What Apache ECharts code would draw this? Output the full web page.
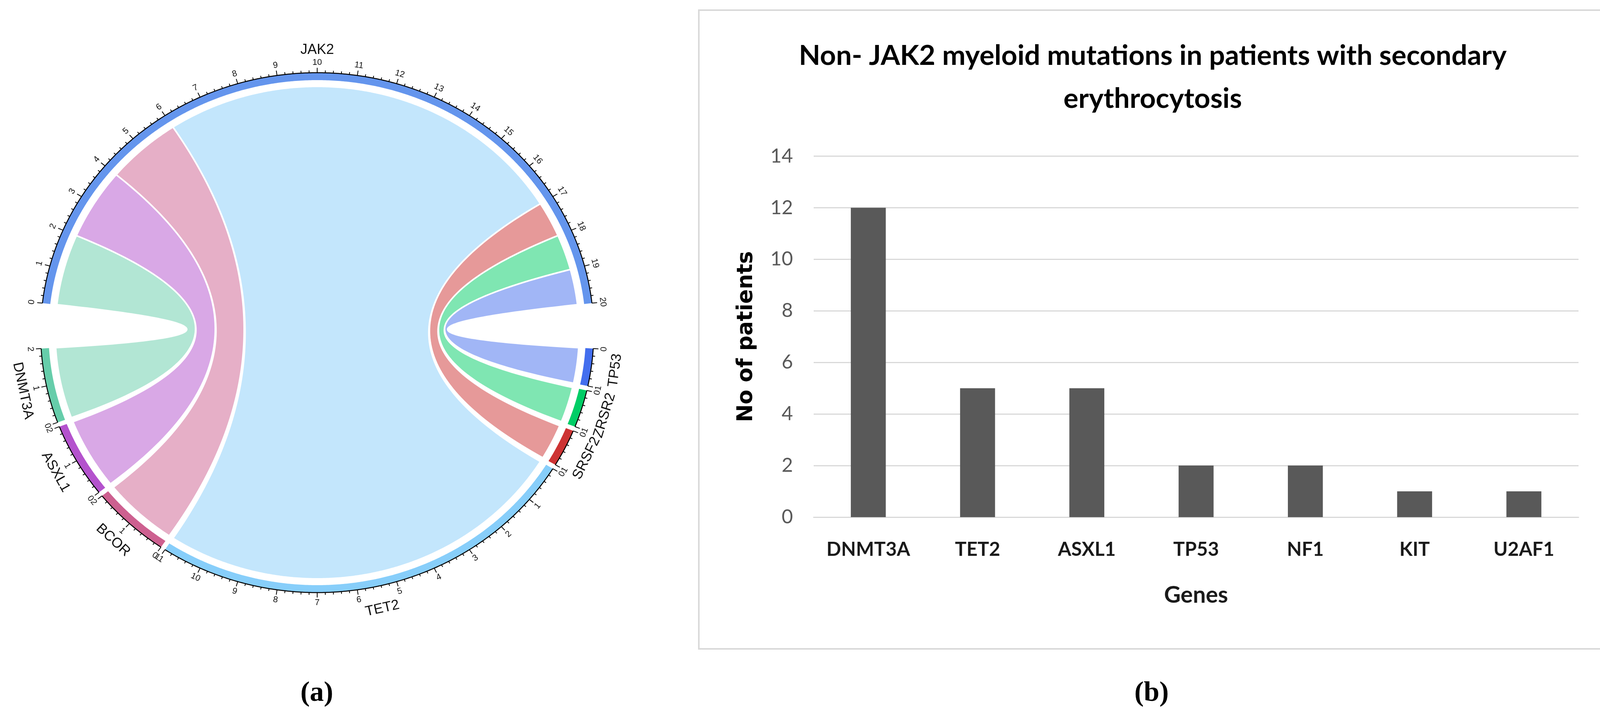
<!DOCTYPE html>
<html>
<head>
<meta charset="utf-8">
<script src="https://cdn.jsdelivr.net/npm/echarts@6.0.0/dist/echarts.min.js"></script>
<style>
html,body{margin:0;padding:0;background:#ffffff;}
#c{width:4150px;height:1842px;}
</style>
</head>
<body>
<div id="c"></div>
<script>
// ---------------- DATA ----------------
// (a) chord diagram: sectors in clockwise order, and links from JAK2
const chordSectors = ['JAK2', 'TP53', 'ZRSR2', 'SRSF2', 'TET2', 'BCOR', 'ASXL1', 'DNMT3A'];
const chordColors  = ['#6495ED', '#436EEE', '#00CD66', '#CD3333', '#87CEFA', '#CD6090', '#B452CD', '#66CDAA'];
const linkSource   = 'JAK2';
const linkTargets  = ['DNMT3A', 'ASXL1', 'BCOR', 'TET2', 'SRSF2', 'ZRSR2', 'TP53'];
const linkValues   = [2, 2, 2, 11, 1, 1, 1];

// (b) bar chart
const genes    = ['DNMT3A', 'TET2', 'ASXL1', 'TP53', 'NF1', 'KIT', 'U2AF1'];
const patients = [12, 5, 5, 2, 2, 1, 1];
const yAxisMin = 0, yAxisMax = 14, yAxisStep = 2;

// ---------------- CHORD LAYOUT (unit circle = outer edge of the ring) ----------------
const GAP_BIG = 1.2, GAP_SMALL = 0.12;
const R_OUT = 1, R_IN = 1 - 19 / 665, R_RIB = 1 - 35 / 665;
const TICK_MAJ = 12.5 / 665, TICK_MIN = 6 / 665;
const R_TLAB = 1 + 26 / 665, R_NAME = 1 + 58 / 665;
const MINOR_STEP = 0.2;
const TICK_FONT = 22, NAME_FONT = 36;

const sectorSize = chordSectors.map(function (n) {
  if (n === linkSource) return linkValues.reduce(function (a, b) { return a + b; }, 0);
  return linkTargets.reduce(function (a, t, i) { return a + (t === n ? linkValues[i] : 0); }, 0);
});
const gapAfter = chordSectors.map(function (n, i) {
  return (n === linkSource || i === chordSectors.length - 1) ? GAP_BIG : GAP_SMALL;
});
const offset = [];
let acc = 0;
chordSectors.forEach(function (n, i) { offset.push(acc); acc += sectorSize[i] + gapAfter[i]; });
const total = acc;
const degPer = 360 / total;
const startDeg = 90 + sectorSize[0] / 2 * degPer;

function angDeg(pos) { return startDeg - pos * degPer; }
function pt(r, pos) { const a = angDeg(pos) * Math.PI / 180; return [r * Math.cos(a), r * Math.sin(a)]; }
function arcPts(out, r, p0, p1) {
  const n = Math.max(8, Math.ceil(Math.abs(p1 - p0) * 24));
  for (let k = 0; k <= n; k++) out.push(pt(r, p0 + (p1 - p0) * k / n));
}
function bezPts(out, r, p0, p1) {
  const A = pt(r, p0), B = pt(r, p1), n = 80;
  for (let k = 1; k < n; k++) {
    const t = k / n, u = 1 - t;
    out.push([u * u * A[0] + t * t * B[0], u * u * A[1] + t * t * B[1]]);
  }
}
function rotFor(pos) {
  let a = angDeg(pos);
  while (a > 180) a -= 360;
  while (a <= -180) a += 360;
  const r = Math.sin(a * Math.PI / 180) >= -1e-6 ? a - 90 : a + 90;
  return r * Math.PI / 180;
}
function rgba(hex, al) {
  const v = parseInt(hex.slice(1), 16);
  return 'rgba(' + (v >> 16 & 255) + ',' + (v >> 8 & 255) + ',' + (v & 255) + ',' + al + ')';
}

function renderRibbon(params, api) {
  const i = api.value(2);
  const si = chordSectors.indexOf(linkSource);
  const ti = chordSectors.indexOf(linkTargets[i]);
  let cum = 0, tcum = 0;
  for (let k = 0; k < i; k++) {
    cum += linkValues[k];
    if (linkTargets[k] === linkTargets[i]) tcum += linkValues[k];
  }
  const s0 = offset[si] + cum, s1 = s0 + linkValues[i];
  const t0 = offset[ti] + tcum, t1 = t0 + linkValues[i];
  const pts = [];
  arcPts(pts, R_RIB, s0, s1);
  bezPts(pts, R_RIB, s1, t0);
  arcPts(pts, R_RIB, t0, t1);
  bezPts(pts, R_RIB, t1, s0);
  return {
    type: 'polygon',
    shape: { points: pts.map(function (p) { return api.coord(p); }) },
    style: { fill: rgba(chordColors[ti], 0.5), stroke: '#ffffff', lineWidth: 4 }
  };
}

function renderSector(params, api) {
  const i = api.value(2);
  const s = offset[i], e = s + sectorSize[i];
  const C = function (p) { return api.coord(p); };
  const children = [];
  const ring = [];
  arcPts(ring, R_OUT, s, e);
  arcPts(ring, R_IN, e, s);
  children.push({ type: 'polygon', shape: { points: ring.map(C) }, style: { fill: chordColors[i] } });
  const base = [];
  arcPts(base, R_OUT, s, e);
  children.push({ type: 'polyline', shape: { points: base.map(C) }, style: { stroke: '#000', lineWidth: 2.5, fill: 'none' } });
  const steps = Math.round(sectorSize[i] / MINOR_STEP);
  for (let k = 0; k <= steps; k++) {
    const pos = s + k * MINOR_STEP;
    const major = (k % 5 === 0);
    const p1 = C(pt(R_OUT, pos)), p2 = C(pt(R_OUT + (major ? TICK_MAJ : TICK_MIN), pos));
    children.push({ type: 'line', shape: { x1: p1[0], y1: p1[1], x2: p2[0], y2: p2[1] }, style: { stroke: '#000', lineWidth: 2 } });
    if (major) {
      const lp = C(pt(R_TLAB, pos));
      children.push({
        type: 'text', x: lp[0], y: lp[1], rotation: rotFor(pos),
        style: { text: String(Math.round(k * MINOR_STEP)), fontSize: TICK_FONT, fontFamily: 'Liberation Sans', fill: '#111', align: 'center', verticalAlign: 'middle' }
      });
    }
  }
  const mid = s + sectorSize[i] / 2;
  const np = C(pt(R_NAME, mid));
  children.push({
    type: 'text', x: np[0], y: np[1], rotation: rotFor(mid),
    style: { text: chordSectors[i], fontSize: NAME_FONT, fontFamily: 'Liberation Sans', fill: '#111', align: 'center', verticalAlign: 'middle' }
  });
  return { type: 'group', children: children };
}

// ---------------- FONT FITTING ----------------
const mctx = document.createElement('canvas').getContext('2d');
function fit(text, weight, family, target) {
  mctx.font = weight + ' 100px ' + family;
  return Math.round(1000 * target / mctx.measureText(text).width) / 10;
}
const titleSize = fit('Non- JAK2 myeloid mutations in patients with secondary', 'bold', 'Lato', 1811);
const catSize   = fit('DNMT3A', 'bold', 'Lato', 214);
const ySize     = fit('14', 'normal', 'Lato', 58);
const genesSize = fit('Genes', 'bold', 'Lato', 164);
const nopSize   = fit('No of patients', 'bold', '"DejaVu Sans"', 438);

// ---------------- OPTION ----------------
const chart = echarts.init(document.getElementById('c'), null, { renderer: 'canvas' });
const option = {
  animation: false,
  backgroundColor: '#ffffff',
  title: [
    {
      text: 'Non- JAK2 myeloid mutations in patients with secondary\nerythrocytosis',
      left: 2946, top: 83, textAlign: 'center',
      textStyle: { fontSize: titleSize, fontWeight: 'bold', fontFamily: 'Lato', color: '#000', lineHeight: 110 }
    },
    {
      text: '{n|(}{b|a}{n|)}', left: 806, top: 1733, textAlign: 'center',
      textStyle: { rich: {
        n: { fontFamily: 'Liberation Serif', fontSize: 72, color: '#000' },
        b: { fontFamily: 'Liberation Serif', fontSize: 72, fontWeight: 'bold', color: '#000' } } }
    },
    {
      text: '{n|(}{b|b}{n|)}', left: 2943, top: 1733, textAlign: 'center',
      textStyle: { rich: {
        n: { fontFamily: 'Liberation Serif', fontSize: 72, color: '#000' },
        b: { fontFamily: 'Liberation Serif', fontSize: 72, fontWeight: 'bold', color: '#000' } } }
    }
  ],
  graphic: [
    { type: 'rect', silent: true, z: -10,
      shape: { x: 1789, y: 26, width: 2323, height: 1634 },
      style: { fill: 'none', stroke: '#d9d9d9', lineWidth: 4 } }
  ],
  grid: [
    { left: 104, top: 186, width: 1416, height: 1330 },
    { left: 2083, top: 399.5, width: 1958, height: 923.5 }
  ],
  xAxis: [
    { gridIndex: 0, type: 'value', min: -1, max: 1, show: false },
    {
      gridIndex: 1, type: 'category', data: genes,
      axisLine: { show: true, lineStyle: { color: '#d9d9d9', width: 3 } },
      axisTick: { show: false },
      axisLabel: { margin: 59, fontSize: catSize, fontWeight: 'bold', fontFamily: 'Lato', color: '#1a1a1a' },
      name: 'Genes', nameLocation: 'middle', nameGap: 171,
      nameTextStyle: { fontSize: genesSize, fontWeight: 'bold', fontFamily: 'Lato', color: '#1a1a1a' }
    }
  ],
  yAxis: [
    { gridIndex: 0, type: 'value', min: -1, max: 1, show: false },
    {
      gridIndex: 1, type: 'value', min: yAxisMin, max: yAxisMax, interval: yAxisStep,
      axisLine: { show: false }, axisTick: { show: false },
      splitLine: { lineStyle: { color: '#d9d9d9', width: 3 } },
      axisLabel: { margin: 53, fontSize: ySize, fontFamily: 'Lato', color: '#595959' },
      name: 'No of patients', nameLocation: 'middle', nameGap: 145,
      nameTextStyle: { fontSize: nopSize, fontWeight: 'bold', fontFamily: 'DejaVu Sans', color: '#000' }
    }
  ],
  series: [
    {
      type: 'custom', name: 'ribbons', coordinateSystem: 'cartesian2d', xAxisIndex: 0, yAxisIndex: 0,
      silent: true, clip: false, z: 2,
      data: linkTargets.map(function (t, i) { return [0, 0, i]; }),
      renderItem: renderRibbon
    },
    {
      type: 'custom', name: 'sectors', coordinateSystem: 'cartesian2d', xAxisIndex: 0, yAxisIndex: 0,
      silent: true, clip: false, z: 3,
      data: chordSectors.map(function (n, i) { return [0, 0, i]; }),
      renderItem: renderSector
    },
    {
      type: 'bar', name: 'No of patients', xAxisIndex: 1, yAxisIndex: 1,
      data: patients, barWidth: '32%',
      itemStyle: { color: '#595959' }
    }
  ]
};
chart.setOption(option);
</script>
</body>
</html>
